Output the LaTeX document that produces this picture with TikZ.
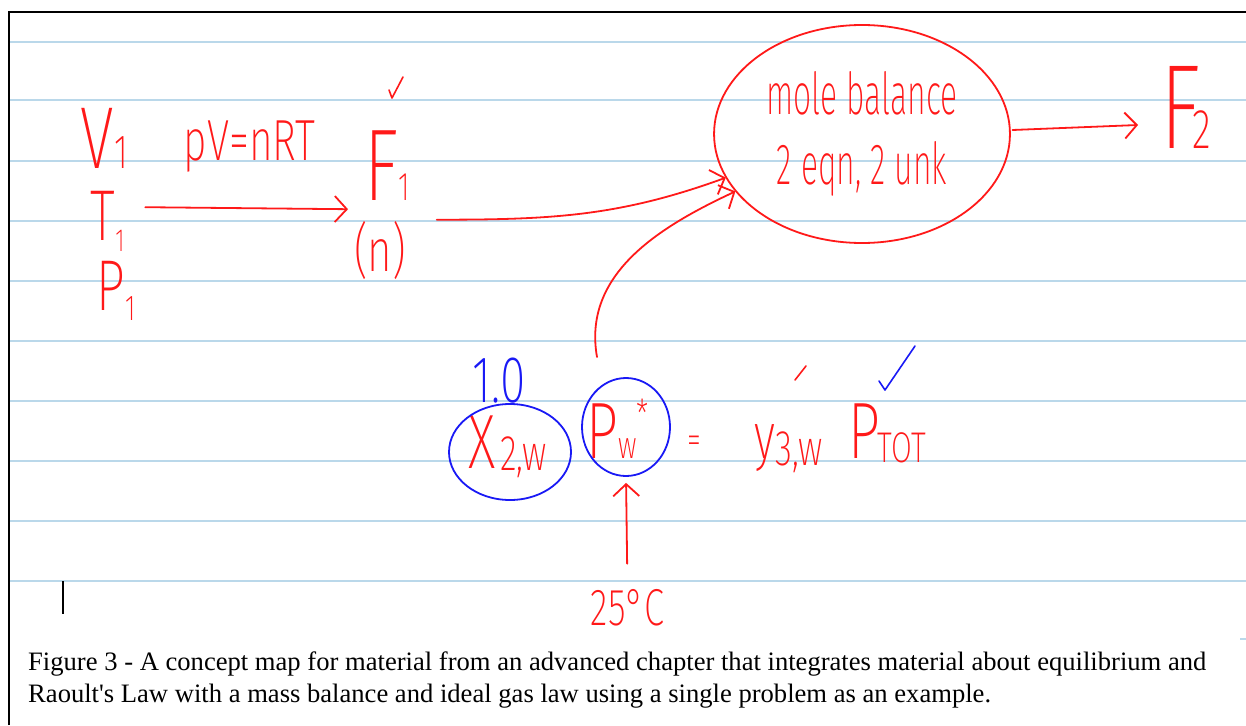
\documentclass[tikz,border=0pt]{standalone}
\usepackage{fontspec}
\setmainfont{Liberation Serif}
\newfontfamily\inkfont{Fira Sans ExtraLight}
\usetikzlibrary{arrows.meta,shapes.geometric,calc}

\definecolor{inkred}{RGB}{255,25,25}
\definecolor{inkblue}{RGB}{25,25,245}
\definecolor{ruleblue}{RGB}{186,216,234}

\newcommand{\inksize}[1]{\inkfont\fontsize{#1}{#1}\selectfont}
% handwritten index: size, raise, text
\newcommand{\lowtext}[3]{{\fontsize{#1}{#1}\selectfont\raisebox{#2}{#3}}}

\tikzset{
    ink/.style={text=inkred, inner sep=1pt, xscale=0.7},
    inkarrow/.style={draw=inkred, line width=1.8pt, line cap=round,
        -{Straight Barb[length=12pt,width=26pt,line width=1.8pt]}},
    inkline/.style={line width=1.6pt, line cap=round, line join=round},
    ring/.style={ellipse, draw=inkblue, line width=1.8pt, inner sep=0pt},
    caption/.style={anchor=base west, inner sep=0pt,
        font=\fontsize{26.6}{32}\selectfont}
}

\begin{document}
\begin{tikzpicture}[x=1pt,y=1pt]
        \useasboundingbox (0,0) rectangle (1246,-725);

        % Ruled paper
        \foreach \y in {42,100,161,221,281,341,401,461,521,581}
            \draw[ruleblue, line width=2.5pt] (10,-\y) -- (1246,-\y);
        \draw[line width=2pt] (9,-725) -- (9,-12) -- (1246,-12);
        \draw[ruleblue, line width=2pt] (1240,-639) -- (1246,-639);
        \draw[line width=1.5pt] (63,-581) -- (63,-614);

        % Inlet stream
        \node[ink, anchor=base west, font=\inksize{88}] (Vone) at (80,-168) {V\lowtext{48}{0pt}{1}};
        \node[ink, anchor=base west, font=\inksize{72}] (Tone) at (90,-240) {T\lowtext{32}{-11pt}{1}};
        \node[ink, anchor=base west, font=\inksize{72}] (Pone) at (96,-310) {P\lowtext{36}{-10pt}{1}};
        \node[ink, anchor=base west, font=\inksize{58}] (law) at (183,-160) {pV=nRT};
        \node[ink, anchor=base west, font=\inksize{102}] (Fone) at (364,-200) {F\lowtext{40}{0pt}{1}};
        \node[ink, font=\inksize{60}] (nmol) at (380,-250) {(n)};
        \draw[inkred, inkline] (389,-90) -- (392,-98) -- (403,-77);

        % Balance and outlet
        \node[ellipse, draw=inkred, line width=1.8pt, inner sep=0pt, xscale=0.55,
              minimum width=538, minimum height=218, align=center,
              text=inkred, font=\inkfont\fontsize{58}{70}\selectfont]
              (bal) at (862,-134) {mole balance\\2 eqn, 2 unk};
        \node[ink, anchor=base west, font=\inksize{120}] (Ftwo) at (1160,-148)
              {F\hspace{-12pt}\lowtext{56}{0pt}{2}};

        % Raoult's law
        \node[ink, anchor=base west, font=\inksize{77}] (xw) at (468,-468)
              {X\hspace{6pt}\lowtext{50}{-2pt}{2,w}};
        \node[ring, minimum width=122, minimum height=96] (xring) at (510,-452) {};
        \node[ink, anchor=base west, text=inkblue, font=\inksize{66}] (one) at (472,-402) {1.0};
        \node[ink, anchor=base west, font=\inksize{80}] (pw) at (586,-458)
              {P\lowtext{38}{0pt}{w}\lowtext{40}{30pt}{*}};
        \node[ring, minimum width=88, minimum height=98] (pwring) at (626,-427) {};
        \node[ink, font=\inksize{40}] (eq) at (694,-445) {=};
        \node[ink, anchor=base west, font=\inksize{65}] (yw) at (754,-458)
              {y\lowtext{50}{-7pt}{3,w}};
        \node[ink, anchor=base west, font=\inksize{80}] (ptot) at (848,-458)
              {P\hspace{-4pt}\lowtext{43}{-4pt}{TOT}};
        \node[ink, anchor=base west, font=\inksize{52}] (temp) at (590,-625) {25°C};
        \draw[inkred, inkline] (795,-380) -- (806,-366);
        \draw[inkblue, inkline] (879,-381) -- (885,-390) -- (915,-346);
        \coordinate (pwtop) at (597,-357);

        % Connections
        \draw[inkarrow] ($(Tone.east |- Fone.south west)+(20,-6)$) -- ($(Fone.south west)+(-16,-8)$);
        \draw[inkarrow] ([xshift=30pt]nmol.north east) to[out=0,in=200] (bal.190);
        \draw[inkarrow] (pwtop) to[out=100,in=205] (bal.194);
        \draw[inkarrow] ($(bal.east)+(2,4)$) -- ($(bal.east -| Ftwo.west)+(-22,9)$);
        \draw[inkarrow, shorten <=24pt, shorten >=6pt] (temp.north) -- (pwring.south);

        % Caption
        \node[caption] (capone) at (28,-670) {Figure 3 - A concept map for material from an advanced chapter that integrates material about equilibrium and};
        \node[caption] (captwo) at (28,-702) {Raoult\textquotesingle s Law with a mass balance and ideal gas law using a single problem as an example.};
    \end{tikzpicture}
\end{document}
